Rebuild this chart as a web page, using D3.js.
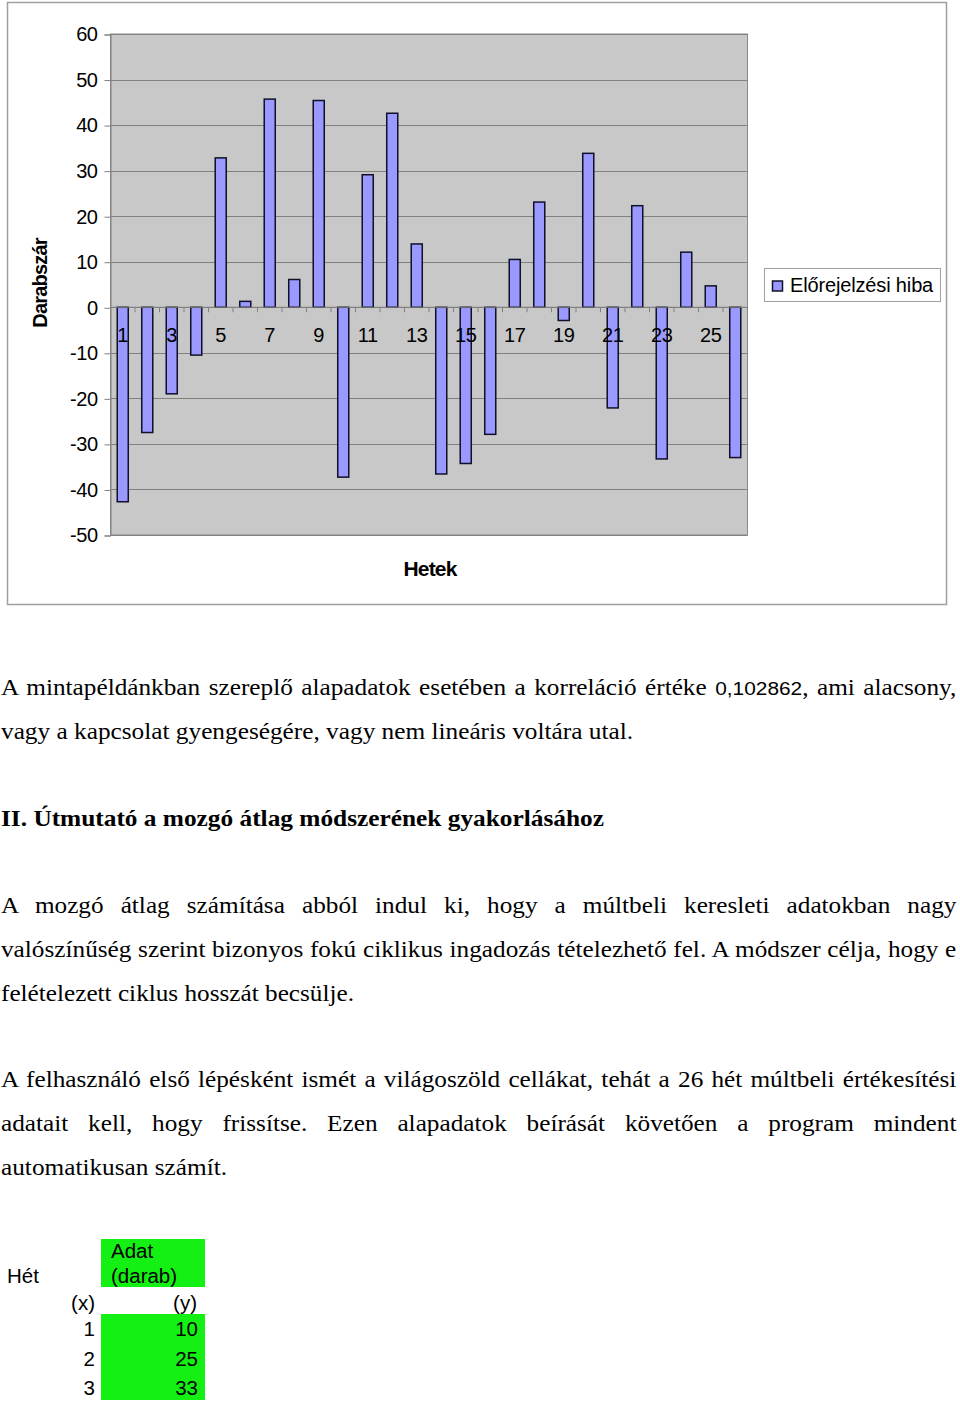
<!DOCTYPE html>
<html>
<head>
<meta charset="utf-8">
<script src="https://cdn.jsdelivr.net/npm/d3@7"></script>
<style>
  body { margin: 0; background: #fff; }
  svg { display: block; }
</style>
</head>
<body>
<svg id="page" width="960" height="1406"></svg>
<script>
// weekly forecast error (Előrejelzési hiba)
const weeks = d3.range(1, 27);
const errors = [-42.7, -27.5, -19.0, -10.5, 32.8, 1.3, 45.7, 6.1, 45.4, -37.3,
                29.1, 42.6, 13.9, -36.6, -34.3, -27.9, 10.5, 23.1, -2.9, 33.8,
                -22.1, 22.3, -33.3, 12.1, 4.7, -33.0];
const yTicks = [60, 50, 40, 30, 20, 10, 0, -10, -20, -30, -40, -50];
const xLabels = weeks.filter(d => d % 2 === 1);
const seriesName = "Előrejelzési hiba";
const xTitle = "Hetek";
const yTitle = "Darabszár";

// small table below the text
const tableWeeks = [1, 2, 3];
const tableValues = [10, 25, 33];

const svg = d3.select("#page");
const SANS = "'Liberation Sans', Arial, sans-serif";
const SERIF = "'Liberation Serif', 'Times New Roman', serif";

// ---- chart ----
svg.append("rect")
  .attr("x", 7.5).attr("y", 2.5).attr("width", 939).attr("height", 602)
  .attr("fill", "#fff").attr("stroke", "#a0a0a0").attr("stroke-width", 1.5);

const plot = {left: 110.5, right: 747.5, top: 34, bottom: 535};

const x = d3.scaleBand()
  .domain(weeks)
  .range([plot.left, plot.right])
  .paddingInner(0.55)
  .paddingOuter(0.275);

const y = d3.scaleLinear()
  .domain([-50, 60])
  .range([plot.bottom, plot.top]);

svg.append("rect")
  .attr("x", plot.left).attr("y", plot.top)
  .attr("width", plot.right - plot.left).attr("height", plot.bottom - plot.top)
  .attr("fill", "#c8c8c8").attr("stroke", "#8a8a8a");

svg.append("g")
  .selectAll("line")
  .data(yTicks)
  .join("line")
  .attr("x1", plot.left).attr("x2", plot.right)
  .attr("y1", d => Math.round(y(d)) + 0.5).attr("y2", d => Math.round(y(d)) + 0.5)
  .attr("stroke", "#808080");

// y axis
const yAxis = svg.append("g")
  .attr("transform", `translate(${plot.left},0.5)`)
  .call(d3.axisLeft(y).tickValues(yTicks).tickSize(6).tickPadding(7).tickFormat(d => String(d)));
yAxis.select(".domain").attr("stroke", "#808080");
yAxis.selectAll(".tick line").attr("stroke", "#808080");
yAxis.selectAll("text")
  .attr("font-family", SANS).attr("font-size", 20).attr("fill", "#000")
  .attr("letter-spacing", -0.5);

// bars
svg.append("g")
  .selectAll("rect")
  .data(errors)
  .join("rect")
  .attr("x", (d, i) => x(weeks[i]))
  .attr("width", x.bandwidth())
  .attr("y", d => y(Math.max(0, d)))
  .attr("height", d => Math.abs(y(d) - y(0)))
  .attr("fill", "#9999ff")
  .attr("stroke", "#101028")
  .attr("stroke-width", 1.5);

// category axis on the zero line
const xAxisLine = y(0);
svg.append("line")
  .attr("x1", plot.left).attr("x2", plot.right)
  .attr("y1", xAxisLine).attr("y2", xAxisLine)
  .attr("stroke", "#808080");
svg.append("g")
  .selectAll("line")
  .data(d3.range(0, weeks.length + 1))
  .join("line")
  .attr("x1", i => plot.left + i * x.step()).attr("x2", i => plot.left + i * x.step())
  .attr("y1", xAxisLine).attr("y2", xAxisLine + 5)
  .attr("stroke", "#808080");
svg.append("g")
  .selectAll("text")
  .data(xLabels)
  .join("text")
  .attr("x", d => x(d) + x.bandwidth() / 2)
  .attr("y", xAxisLine + 35)
  .attr("text-anchor", "middle")
  .attr("font-family", SANS).attr("font-size", 20).attr("letter-spacing", -0.3)
  .attr("fill", "#000")
  .text(d => d);

// axis titles
svg.append("text")
  .attr("transform", "translate(47,283) rotate(-90)")
  .attr("text-anchor", "middle")
  .attr("font-family", SANS).attr("font-size", 20).attr("font-weight", "bold")
  .attr("letter-spacing", -0.8)
  .text(yTitle);
svg.append("text")
  .attr("x", 430).attr("y", 576)
  .attr("text-anchor", "middle")
  .attr("font-family", SANS).attr("font-size", 21).attr("font-weight", "bold")
  .attr("letter-spacing", -0.8)
  .text(xTitle);

// legend
const legend = svg.append("g");
legend.append("rect")
  .attr("x", 764.5).attr("y", 268.5).attr("width", 176).attr("height", 33)
  .attr("fill", "#fff").attr("stroke", "#a0a0a0");
legend.append("rect")
  .attr("x", 772.5).attr("y", 281).attr("width", 10).attr("height", 10)
  .attr("fill", "#9999ff").attr("stroke", "#101028").attr("stroke-width", 1.5);
legend.append("text")
  .attr("x", 790).attr("y", 292)
  .attr("font-family", SANS).attr("font-size", 20).attr("letter-spacing", -0.15)
  .text(seriesName);

// ---- body text ----
const FS = 23;
const paraLines = [
  {y: 695, w: 956, justify: true,
   parts: ["A mintapéldánkban szereplő alapadatok esetében a korreláció értéke ", {sans: "0,102862"}, ", ami alacsony,"]},
  {y: 739, w: 632, parts: ["vagy a kapcsolat gyengeségére, vagy nem lineáris voltára utal."]},
  {y: 826, w: 603, bold: true, parts: ["II. Útmutató a mozgó átlag módszerének gyakorlásához"]},
  {y: 913, w: 956, justify: true, parts: ["A mozgó átlag számítása abból indul ki, hogy a múltbeli keresleti adatokban nagy"]},
  {y: 957, w: 956, justify: true, parts: ["valószínűség szerint bizonyos fokú ciklikus ingadozás tételezhető fel. A módszer célja, hogy e"]},
  {y: 1001, w: 353, parts: ["felételezett ciklus hosszát becsülje."]},
  {y: 1087, w: 956, justify: true, parts: ["A felhasználó első lépésként ismét a világoszöld cellákat, tehát a 26 hét múltbeli értékesítési"]},
  {y: 1131, w: 956, justify: true, parts: ["adatait kell, hogy frissítse. Ezen alapadatok beírását követően a program mindent"]},
  {y: 1175, w: 226, parts: ["automatikusan számít."]}
];

const textG = svg.append("g");
const nodes = paraLines.map(l => {
  const t = textG.append("text")
    .attr("font-family", SERIF).attr("font-size", FS)
    .attr("font-weight", l.bold ? "bold" : "normal")
    .attr("fill", "#000");
  l.parts.forEach(p => {
    if (typeof p === "string") t.append("tspan").text(p);
    else t.append("tspan").attr("font-family", SANS).attr("font-size", 19).text(p.sans);
  });
  return {l, t, nat: t.node().getComputedTextLength()};
});

// horizontal squeeze taken from the lines that are not justified
const free = nodes.filter(n => !n.l.justify && !n.l.bold);
const s = d3.mean(free, n => n.l.w / n.nat);

nodes.forEach(n => {
  const {l, t, nat} = n;
  t.attr("transform", `translate(1,${l.y}) scale(${s},1)`);
  if (l.justify) {
    const spaces = l.parts.map(p => typeof p === "string" ? p : p.sans).join("").split(" ").length - 1;
    t.attr("word-spacing", (l.w / s - nat) / spaces);
  } else {
    t.attr("textLength", l.w / s).attr("lengthAdjust", "spacingAndGlyphs");
  }
});

// ---- table ----
const GREEN = "#14f014";
const tbl = svg.append("g").attr("font-family", SANS).attr("font-size", 20.5).attr("fill", "#000");
tbl.append("rect").attr("x", 101).attr("y", 1239).attr("width", 104).attr("height", 48).attr("fill", GREEN);
tbl.append("rect").attr("x", 101).attr("y", 1314).attr("width", 104).attr("height", 86).attr("fill", GREEN);
tbl.append("text").attr("x", 7).attr("y", 1283).text("Hét");
tbl.append("text").attr("x", 111).attr("y", 1258).text("Adat");
tbl.append("text").attr("x", 111).attr("y", 1283).text("(darab)");
tbl.append("text").attr("x", 95).attr("y", 1310).attr("text-anchor", "end").text("(x)");
tbl.append("text").attr("x", 197).attr("y", 1310).attr("text-anchor", "end").text("(y)");

const rowY = d3.scalePoint().domain(tableWeeks).range([1336, 1395]);
tbl.append("g").selectAll("text").data(tableWeeks).join("text")
  .attr("x", 95).attr("y", d => rowY(d)).attr("text-anchor", "end").text(d => d);
tbl.append("g").selectAll("text").data(tableValues).join("text")
  .attr("x", 198).attr("y", (d, i) => rowY(tableWeeks[i])).attr("text-anchor", "end").text(d => d);
</script>
</body>
</html>
